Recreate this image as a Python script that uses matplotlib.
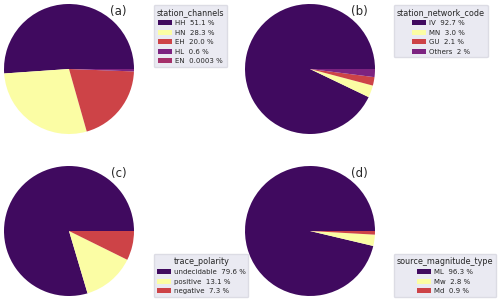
import matplotlib
matplotlib.use("Agg")
import matplotlib.pyplot as plt

# datos por panel
canales      = ["HH", "HN", "EH", "HL", "EN"]
canales_pct  = [51.1, 28.3, 20.0, 0.6, 0.0003]
redes        = ["IV", "MN", "GU", "Others"]
redes_pct    = [92.7, 3.0, 2.1, 2]
polaridad    = ["undecidable", "positive", "negative"]
polaridad_pct = [79.6, 13.1, 7.3]
magnitud     = ["ML", "Mw", "Md"]
magnitud_pct = [96.3, 2.8, 0.9]

COLORES = ["#400a5f", "#fbfda4", "#cd4347", "#7c2380", "#a5306a"]

plt.rcParams["font.family"] = "DejaVu Sans"
plt.rcParams["text.color"] = "#262626"

W, H = 500, 302
fig = plt.figure(figsize=(W / 100, H / 100), dpi=100)

def fmt(p):
    return f"{p:g}" if p < 0.01 or p == 2 else f"{p:.1f}"

paneles = [
    # (nombres, valores, titulo, letra, centro pie (px), legend anchor (px), loc)
    (canales,   canales_pct,   "station_channels",      "(a)", (69, 69),   (154, 5),   "upper left"),
    (redes,     redes_pct,     "station_network_code",  "(b)", (310, 69),  (394, 5),   "upper left"),
    (polaridad, polaridad_pct, "trace_polarity",        "(c)", (69, 231),  (154, 297), "lower left"),
    (magnitud,  magnitud_pct,  "source_magnitude_type", "(d)", (310, 231), (394, 297), "lower left"),
]

R = 65
for nombres, vals, titulo, letra, (cx, cy), (lx, ly), loc in paneles:
    ax = fig.add_axes([(cx - R) / W, 1 - (cy + R) / H, 2 * R / W, 2 * R / H])
    wedges, _ = ax.pie(vals, colors=COLORES[:len(vals)], startangle=0,
                       counterclock=True, wedgeprops=dict(linewidth=0))
    ax.set_xlim(-1, 1)
    ax.set_ylim(-1, 1)
    ax.set_aspect("auto")
    ax.text(0.88, 0.94, letra, transform=ax.transAxes, fontsize=8.5,
            ha="center", va="center", color="#262626")
    etiquetas = [f"{n}  {fmt(p)} %" for n, p in zip(nombres, vals)]
    leg = fig.legend(wedges, etiquetas, title=titulo, loc=loc,
                     bbox_to_anchor=(lx / W, 1 - ly / H), bbox_transform=fig.transFigure,
                     borderaxespad=0, fontsize=5.0, title_fontsize=5.8,
                     facecolor="#eaeaf2", edgecolor="#dcdce4", framealpha=1,
                     handlelength=2.0, handleheight=0.7, labelspacing=0.5,
                     borderpad=0.4, handletextpad=0.45)
    for t in leg.get_texts():
        t.set_color("#262626")

fig.savefig("out.png", dpi=100)
